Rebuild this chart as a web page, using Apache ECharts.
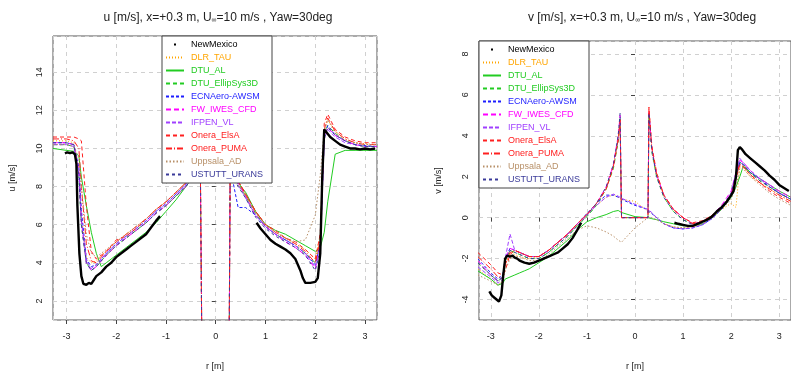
<!DOCTYPE html>
<html><head><meta charset="utf-8">
<script src="https://cdn.jsdelivr.net/npm/echarts@6/dist/echarts.min.js"></script>
<style>html,body{margin:0;padding:0;background:#fff}#c{width:791px;height:376px}</style>
</head><body><div id="c"></div>
<script>
// common radial grid of the simulations (m)
const r = [-3.27, -3.0, -2.85, -2.75, -2.7, -2.6, -2.5, -2.4, -2.3, -2.2,
  -2.0, -1.8, -1.6, -1.4, -1.2, -1.0, -0.8, -0.6, -0.45, -0.35,
  -0.31, -0.28, 0,
  0.27, 0.29, 0.35, 0.45, 0.6, 0.8, 1.0,
  1.2, 1.4, 1.6, 1.8, 2.0, 2.1, 2.18, 2.25, 2.4, 2.6, 2.8, 3.0, 3.24];

const modelNames = ['DLR_TAU','DTU_AL','DTU_EllipSys3D','ECNAero-AWSM','FW_IWES_CFD','IFPEN_VL','Onera_ElsA','Onera_PUMA','Uppsala_AD','USTUTT_URANS'];
const modelColors = ['#FFA500','#22CC22','#22CC22','#1E1EFF','#FF00FF','#A040FF','#FF2020','#FF2020','#B89068','#3A3A99'];

// u [m/s]
const u_DLR_TAU = [10.4,10.4,10.3,9.0,6.5,4.3,4.0,4.1,4.4,4.6, 5.1,5.5,5.9,6.3,6.8,7.2,7.7,8.2,8.7,9.1, 9.3,9.4,9.6, 9.1,9.0,8.7,8.3,7.6,6.7,6.0, 5.6,5.3,5.0,4.7,4.2,5.5,10.9,11.5,10.9,10.5,10.3,10.25,10.2];
const u_DTU_AL = [10.0,9.9,9.85,9.6,8.5,7.0,5.6,4.5,3.8,4.0, 4.4,4.8,5.2,5.6,6.1,6.7,7.3,8.0,8.5,8.9, 9.0,9.1,9.3, 8.8,8.7,8.5,8.2,7.7,6.7,6.0, 5.7,5.5,5.2,4.9,4.6,4.8,5.6,7.2,9.7,9.9,9.9,9.9,9.9];
const u_DTU_EllipSys3D = [10.2,10.2,10.1,8.5,6.0,4.0,3.6,3.8,4.1,4.4, 4.9,5.3,5.7,6.1,6.6,7.0,7.5,8.0,8.5,9.0, 9.2,0,0, 0,8.9,8.6,8.2,7.5,6.6,5.9, 5.5,5.2,4.9,4.5,4.0,5.0,10.8,11.2,10.8,10.4,10.2,10.1,10.1];
const u_ECNAero = [10.3,10.3,10.2,9.0,6.8,4.2,3.8,3.9,4.2,4.5, 5.0,5.4,5.8,6.2,6.7,7.1,7.6,8.1,8.6,9.0, 9.3,9.4,9.6, 9.0,8.9,8.2,6.9,6.9,6.5,5.9, 5.5,5.2,4.9,4.5,3.9,5.0,10.7,11.2,10.7,10.4,10.2,10.15,10.1];
const u_FW_IWES = [10.3,10.3,10.2,8.8,6.2,4.0,3.6,3.8,4.1,4.4, 4.9,5.3,5.7,6.1,6.6,7.0,7.5,8.0,8.5,9.0, 9.3,0,0, 0,9.0,8.6,8.2,7.5,6.5,5.9, 5.5,5.1,4.8,4.4,3.7,4.8,10.6,11.1,10.7,10.4,10.2,10.1,10.1];
const u_IFPEN = [10.2,10.2,10.1,8.7,6.3,4.1,3.7,3.9,4.2,4.5, 5.0,5.4,5.8,6.2,6.7,7.1,7.6,8.1,8.6,9.0, 9.3,9.4,9.6, 8.9,8.8,8.5,8.1,7.4,6.5,5.9, 5.5,5.2,4.9,4.5,3.8,4.8,10.5,11.0,10.6,10.3,10.2,10.1,10.1];
const u_Onera_ElsA = [10.6,10.6,10.6,10.5,10.4,7.0,4.6,4.2,4.4,4.6, 5.2,5.4,5.8,6.3,6.8,7.2,7.7,8.2,8.7,9.1, 9.3,0,0, 0,9.0,8.7,8.3,7.6,6.7,6.0, 5.7,5.3,5.1,4.7,4.2,5.5,11.3,11.8,11.0,10.6,10.4,10.3,10.3];
const u_Onera_PUMA = [10.5,10.5,10.4,10.0,8.0,5.0,4.1,4.0,4.3,4.6, 5.1,5.5,5.9,6.3,6.8,7.2,7.7,8.2,8.7,9.1, 9.3,0,0, 0,9.0,8.7,8.3,7.6,6.7,6.0, 5.6,5.3,5.0,4.6,4.0,5.2,11.0,11.6,10.9,10.5,10.3,10.2,10.2];
const u_Uppsala = [10.2,10.2,10.1,9.5,8.0,5.5,4.5,4.3,4.5,4.7, 5.1,5.5,5.9,6.3,6.8,7.2,7.7,8.2,8.6,9.0, 9.2,9.3,9.5, 8.9,8.8,8.5,8.1,7.5,6.6,6.0, 5.6,5.3,5.1,5.2,6.5,8.6,11.0,11.5,10.8,10.4,10.3,10.2,10.2];
const u_USTUTT = [10.3,10.3,10.2,8.6,6.0,4.0,3.6,3.8,4.1,4.4, 4.9,5.3,5.7,6.1,6.6,7.0,7.5,8.0,8.5,9.0, 9.3,0,0, 0,8.9,8.5,8.0,7.4,6.4,5.8, 5.4,5.1,4.8,4.4,3.6,4.6,10.5,11.1,10.7,10.4,10.2,10.1,10.1];

// v [m/s]
const v_DLR_TAU = [-2.5,-3.0,-3.3,-3.1,-2.3,-1.7,-1.8,-1.9,-2.0,-2.0, -1.9,-1.6,-1.2,-0.8,-0.3,0.2,0.6,1.0,1.1,1.0, 0.9,0.85,0.8, 0.3,0.3,0.2,0.0,-0.3,-0.45,-0.5, -0.45,-0.3,0.0,0.4,0.7,0.5,2.5,2.4,2.0,1.7,1.4,1.1,0.8];
const v_DTU_AL = [-2.6,-3.0,-3.3,-3.2,-3.0,-2.9,-2.8,-2.7,-2.6,-2.5, -2.2,-1.9,-1.5,-1.1,-0.6,-0.2,0.0,0.15,0.3,0.35, 0.3,0.25,0.05, 0.0,0.0,-0.05,-0.1,-0.2,-0.3,-0.4, -0.4,-0.3,0.0,0.4,1.0,1.5,2.0,2.5,2.2,1.9,1.6,1.3,1.0];
const v_DTU_EllipSys3D = [-2.2,-2.8,-3.1,-2.9,-2.1,-1.6,-1.7,-1.8,-1.9,-2.0, -2.0,-1.7,-1.3,-0.9,-0.4,0.05,0.6,1.4,2.4,3.7, 4.8,0,0, 0,5.0,3.2,2.0,1.0,0.3,-0.1, -0.3,-0.2,0.1,0.5,1.1,2.0,2.7,2.6,2.2,1.8,1.5,1.2,0.9];
const v_ECNAero = [-2.0,-2.7,-3.0,-2.8,-2.0,-1.5,-1.6,-1.7,-1.8,-1.9, -1.9,-1.6,-1.2,-0.8,-0.3,0.2,0.7,1.1,1.1,1.0, 0.95,0.9,0.6, 0.4,0.3,0.2,0.0,-0.3,-0.5,-0.55, -0.5,-0.35,-0.05,0.4,1.1,2.1,2.7,2.6,2.2,1.9,1.5,1.2,0.9];
const v_FW_IWES = [-2.1,-2.8,-3.1,-2.9,-2.0,-1.5,-1.6,-1.7,-1.8,-1.9, -1.9,-1.6,-1.2,-0.8,-0.3,0.15,0.7,1.5,2.6,4.0, 5.0,0,0, 0,5.2,3.4,2.1,1.1,0.4,0.0, -0.3,-0.2,0.1,0.6,1.3,2.2,2.8,2.7,2.3,1.9,1.6,1.3,1.0];
const v_IFPEN = [-2.4,-2.9,-3.2,-3.0,-2.0,-0.8,-1.6,-1.7,-1.8,-1.9, -1.9,-1.6,-1.2,-0.8,-0.3,0.15,0.6,1.0,1.15,1.05, 1.0,0.95,0.65, 0.4,0.35,0.25,0.0,-0.3,-0.5,-0.55, -0.5,-0.35,-0.05,0.45,1.2,2.2,2.9,2.7,2.3,1.9,1.6,1.2,0.9];
const v_Onera_ElsA = [-1.7,-2.3,-2.7,-2.8,-2.6,-1.8,-1.6,-1.7,-1.8,-1.9, -1.9,-1.6,-1.2,-0.8,-0.3,0.15,0.7,1.4,2.5,3.8, 4.7,0,0, 0,5.4,3.5,2.2,1.1,0.4,0.0, -0.25,-0.15,0.1,0.5,1.1,1.9,2.6,2.5,2.1,1.7,1.3,1.0,0.7];
const v_Onera_PUMA = [-1.9,-2.5,-2.9,-2.9,-2.3,-1.7,-1.6,-1.7,-1.8,-1.9, -1.9,-1.6,-1.2,-0.8,-0.3,0.15,0.7,1.4,2.5,3.8, 4.8,0,0, 0,5.3,3.4,2.1,1.1,0.4,0.0, -0.3,-0.2,0.1,0.5,1.1,2.0,2.6,2.5,2.1,1.7,1.4,1.1,0.8];
const v_Uppsala = [-2.8,-3.1,-3.3,-3.1,-2.6,-2.0,-1.9,-1.9,-2.0,-2.1, -2.1,-1.8,-1.4,-1.0,-0.6,-0.4,-0.5,-0.7,-0.9,-1.1, -1.15,-1.2,-0.5, 0.0,0.0,0.0,-0.1,-0.3,-0.45,-0.5, -0.45,-0.3,0.0,0.4,0.9,1.5,2.4,2.4,2.0,1.6,1.2,0.9,0.6];
const v_USTUTT = [-2.2,-2.8,-3.1,-2.9,-2.1,-1.6,-1.7,-1.8,-1.9,-2.0, -2.0,-1.7,-1.3,-0.9,-0.4,0.1,0.7,1.5,2.6,4.0, 5.1,0,0, 0,5.1,3.3,2.0,1.0,0.3,-0.1, -0.35,-0.25,0.05,0.5,1.2,2.1,2.7,2.6,2.2,1.8,1.5,1.2,0.9];

// NewMexico measurements (two traverses)
const expR_a = [-3.03,-2.98,-2.93,-2.88,-2.83,-2.8,-2.78,-2.74,-2.7,-2.66,-2.6,-2.55,-2.5,-2.45,-2.4,-2.3,-2.2,-2.1,-2.0,-1.9,-1.8,-1.7,-1.6,-1.5,-1.4,-1.3,-1.2,-1.12];
const expU_a = [9.74,9.8,9.75,9.8,9.7,9.2,7.0,4.5,3.3,2.9,2.85,2.95,2.9,3.1,3.3,3.5,3.8,4.0,4.3,4.5,4.7,4.9,5.1,5.3,5.5,5.85,6.2,6.45];
const expV_a = [-3.6,-3.8,-3.9,-4.0,-4.1,-4.05,-3.8,-2.8,-2.0,-1.85,-1.9,-1.85,-1.95,-2.0,-2.1,-2.2,-2.25,-2.2,-2.1,-2.0,-1.9,-1.8,-1.7,-1.5,-1.3,-1.0,-0.6,-0.25];
const expR_b = [0.82,0.9,1.0,1.1,1.2,1.3,1.4,1.5,1.6,1.7,1.75,1.8,1.9,2.0,2.05,2.1,2.14,2.18,2.22,2.3,2.4,2.5,2.6,2.7,2.8,2.9,3.0,3.1,3.2];
const expU_b = [6.1,5.8,5.5,5.2,5.0,4.85,4.7,4.5,4.2,3.6,3.2,2.95,2.95,3.0,3.2,4.5,8.5,11.0,10.9,10.6,10.4,10.2,10.1,10.0,10.0,9.95,10.0,9.95,10.0];
const expV_b = [-0.25,-0.3,-0.35,-0.4,-0.4,-0.3,-0.2,-0.1,0.05,0.3,0.4,0.5,0.75,1.1,1.3,2.0,3.3,3.45,3.35,3.1,2.9,2.7,2.5,2.3,2.05,1.85,1.6,1.45,1.3];

const uData = [u_DLR_TAU,u_DTU_AL,u_DTU_EllipSys3D,u_ECNAero,u_FW_IWES,u_IFPEN,u_Onera_ElsA,u_Onera_PUMA,u_Uppsala,u_USTUTT];
const vData = [v_DLR_TAU,v_DTU_AL,v_DTU_EllipSys3D,v_ECNAero,v_FW_IWES,v_IFPEN,v_Onera_ElsA,v_Onera_PUMA,v_Uppsala,v_USTUTT];
const dashes = [[1,2],'solid',[4,3],[3,2],[5,3],[4,2],[4,3],[6,2,1,2],[1.5,2],[3,3]];

const zip = (a, b) => a.map((x, i) => [x, b[i]]);
const FONT = 'Liberation Sans, Arial, sans-serif';

const series = [];
modelNames.forEach((nm, k) => {
  [0, 1].forEach(p => {
    series.push({
      name: nm, type: 'line', xAxisIndex: p, yAxisIndex: p,
      data: zip(r, p === 0 ? uData[k] : vData[k]),
      symbol: 'none', clip: true, z: 3,
      lineStyle: { color: modelColors[k], width: 1, type: dashes[k] },
      itemStyle: { color: modelColors[k] }
    });
  });
});
[[expR_a, expU_a, 0], [expR_b, expU_b, 0], [expR_a, expV_a, 1], [expR_b, expV_b, 1]].forEach(([xs, ys, p]) => {
  series.push({
    name: 'NewMexico', type: 'line', xAxisIndex: p, yAxisIndex: p,
    data: zip(xs, ys), symbol: 'none', clip: true, z: 5,
    lineStyle: { color: '#000', width: 2.4 }, itemStyle: { color: '#000' }
  });
});

const legendNames = ['NewMexico'].concat(modelNames);
const legendColors = ['#000'].concat(modelColors);
const legendData = legendNames.map((n, i) => {
  const o = { name: n, textStyle: { color: legendColors[i] } };
  if (i === 0) { o.icon = 'path://M0,0M18,8M8,3h2v2h-2z'; o.itemStyle = { opacity: 1, color: '#000' }; }
  return o;
});
const mkLegend = (left, top) => ({
  data: legendData, orient: 'vertical', left: left, top: top,
  itemWidth: 18, itemHeight: 8, itemGap: 4,
  padding: [4, 9, 4, 3], backgroundColor: '#fff',
  borderColor: '#444', borderWidth: 1, borderRadius: 0,
  selectedMode: false,
  itemStyle: { opacity: 0 },
  textStyle: { fontFamily: FONT, fontSize: 9, padding: [0, 0, 0, 2] }
});

const splitLine = { show: true, lineStyle: { color: '#d0d0d0', type: [4, 4], width: 1 } };
const tick = { show: true, inside: false, length: 4, lineStyle: { color: '#444' } };
const lbl = { fontFamily: FONT, fontSize: 9, color: '#222', showMinLabel: false, showMaxLabel: false };
const nameStyle = { fontFamily: FONT, fontSize: 9, color: '#222' };
const mkX = (g, mn, mx) => ({
  type: 'value', gridIndex: g, min: mn, max: mx, splitNumber: 5,
  name: 'r [m]', nameLocation: 'middle', nameGap: 42, nameTextStyle: nameStyle,
  axisLine: { show: false }, axisTick: tick, splitLine: splitLine,
  axisLabel: Object.assign({ margin: 12 }, lbl)
});
const mkY = (g, mn, mx, nm) => ({
  type: 'value', gridIndex: g, min: mn, max: mx, splitNumber: 7,
  name: nm, nameLocation: 'middle', nameGap: 36, nameRotate: 90, nameTextStyle: nameStyle,
  axisLine: { show: false }, axisTick: tick, splitLine: splitLine,
  axisLabel: Object.assign({ margin: 9, rotate: 90 }, lbl)
});

const titleStyle = { fontFamily: FONT, fontSize: 12, fontWeight: 'normal', color: '#222',
  rich: { s: { fontFamily: FONT, fontSize: 7, color: '#222', verticalAlign: 'bottom', padding: [6, 0, 0, 0] } } };

const option = {
  animation: false,
  backgroundColor: '#fff',
  title: [
    { text: 'u [m/s], x=+0.3 m, U{s|∞}=10 m/s , Yaw=30deg', left: 213, top: 6, textAlign: 'center', textStyle: titleStyle },
    { text: 'v [m/s], x=+0.3 m, U{s|∞}=10 m/s , Yaw=30deg', left: 637, top: 6, textAlign: 'center', textStyle: titleStyle }
  ],
  legend: [mkLegend(162, 36), mkLegend(479, 41)],
  grid: [
    { left: 53, top: 36, width: 324, height: 289, show: true, borderColor: '#555', borderWidth: 1, backgroundColor: 'transparent' },
    { left: 479, top: 41, width: 320, height: 284, show: true, borderColor: '#555', borderWidth: 1, backgroundColor: 'transparent' }
  ],
  xAxis: [mkX(0, -3.27, 3.24), mkX(1, -3.245, 3.245)],
  yAxis: [mkY(0, 1.0, 15.9, 'u [m/s]'), mkY(1, -5.0, 8.63, 'v [m/s]')],
  series: series
};
const chart = echarts.init(document.getElementById('c'), null, { renderer: 'canvas' });
chart.setOption(option);
</script>
</body></html>
